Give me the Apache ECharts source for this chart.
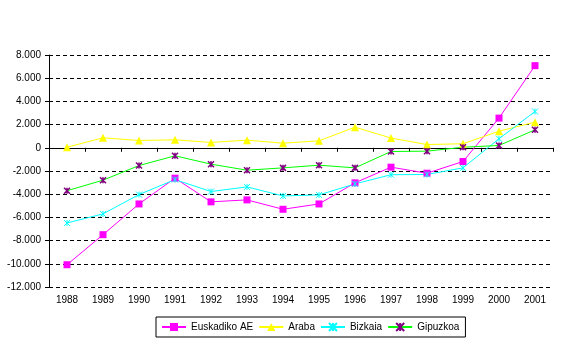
<!DOCTYPE html>
<html>
<head>
<meta charset="utf-8">
<script src="https://cdn.jsdelivr.net/npm/echarts@6/dist/echarts.min.js"></script>
<style>
  html, body { margin: 0; padding: 0; background: #fff; }
  #chart { width: 567px; height: 344px; }
</style>
</head>
<body>
<div id="chart"></div>
<script>
// Years on the category axis
const years = ['1988','1989','1990','1991','1992','1993','1994','1995','1996','1997','1998','1999','2000','2001'];

// Series values
const euskadiko = [-10080, -7490, -4840, -2620, -4660, -4490, -5300, -4840, -3020, -1670, -2190, -1180, 2560, 7080];
const araba     = [50, 860, 630, 690, 460, 660, 400, 600, 1780, 840, 280, 350, 1430, 2210];
const bizkaia   = [-6480, -5700, -4030, -2740, -3770, -3370, -4150, -4060, -3110, -2320, -2300, -1730, 780, 3130];
const gipuzkoa  = [-3700, -2790, -1530, -690, -1410, -1930, -1730, -1500, -1730, -320, -290, 50, 200, 1550];

// Value axis range
const yMin = -12000, yMax = 8000, yStep = 2000;

const font = 'Arial, "Liberation Sans", sans-serif';
const starPath = 'path://M0,0L10,10M10,0L0,10M5,0L5,10';

// Thousands separated with a dot
function fmt(v) {
  const s = Math.abs(v).toString().replace(/\B(?=(\d{3})+(?!\d))/g, '.');
  return (v < 0 ? '-' : '') + s;
}

const chart = echarts.init(document.getElementById('chart'), null, { renderer: 'canvas' });
chart.setOption({
  animation: false,
  backgroundColor: '#fff',
  grid: { left: 49, right: 14, top: 55, bottom: 57 },
  legend: {
    left: 156, top: 317,
    padding: [5, 6, 5, 5],
    borderColor: '#000', borderWidth: 1, borderRadius: 0,
    itemWidth: 24, itemHeight: 10, itemGap: 5,
    textStyle: { fontFamily: font, fontSize: 10, color: '#000' },
    data: ['Euskadiko AE', 'Araba', 'Bizkaia', 'Gipuzkoa']
  },
  xAxis: [
    {
      // zero line with category ticks
      type: 'category', data: years, boundaryGap: true,
      axisLine: { show: true, onZero: true, lineStyle: { color: '#000', width: 1 } },
      axisTick: { show: true, length: 4, lineStyle: { color: '#000' } },
      axisLabel: { show: false },
      splitLine: { show: false }
    },
    {
      // year labels along the bottom edge
      type: 'category', data: years, boundaryGap: true, position: 'bottom',
      axisLine: { show: false, onZero: false },
      axisTick: { show: false },
      axisLabel: { show: true, margin: 8, fontFamily: font, fontSize: 10, color: '#000' },
      splitLine: { show: false }
    }
  ],
  yAxis: {
    type: 'value', min: yMin, max: yMax, interval: yStep,
    axisLine: { show: true, lineStyle: { color: '#000', width: 1 } },
    axisTick: { show: true, length: 4, lineStyle: { color: '#000' } },
    axisLabel: { formatter: fmt, margin: 8, fontFamily: font, fontSize: 10, color: '#000' },
    splitLine: { show: true, lineStyle: { color: '#000', type: [4, 3], width: 1 } }
  },
  series: [
    {
      name: 'Euskadiko AE', type: 'line', data: euskadiko, xAxisIndex: 0,
      symbol: 'rect', symbolSize: 7,
      lineStyle: { color: '#ff00ff', width: 1 },
      itemStyle: { color: '#ff00ff' }
    },
    {
      name: 'Araba', type: 'line', data: araba, xAxisIndex: 0,
      symbol: 'triangle', symbolSize: 8,
      lineStyle: { color: '#ffff00', width: 1 },
      itemStyle: { color: '#ffff00' }
    },
    {
      name: 'Bizkaia', type: 'line', data: bizkaia, xAxisIndex: 0,
      symbol: starPath, symbolSize: 6,
      lineStyle: { color: '#00ffff', width: 1 },
      itemStyle: { color: '#00ffff', borderColor: '#00ffff', borderWidth: 1 }
    },
    {
      name: 'Gipuzkoa', type: 'line', data: gipuzkoa, xAxisIndex: 0,
      symbol: starPath, symbolSize: 6,
      lineStyle: { color: '#00ff00', width: 1 },
      itemStyle: { color: '#800080', borderColor: '#800080', borderWidth: 1.5 }
    }
  ]
});
</script>
</body>
</html>
